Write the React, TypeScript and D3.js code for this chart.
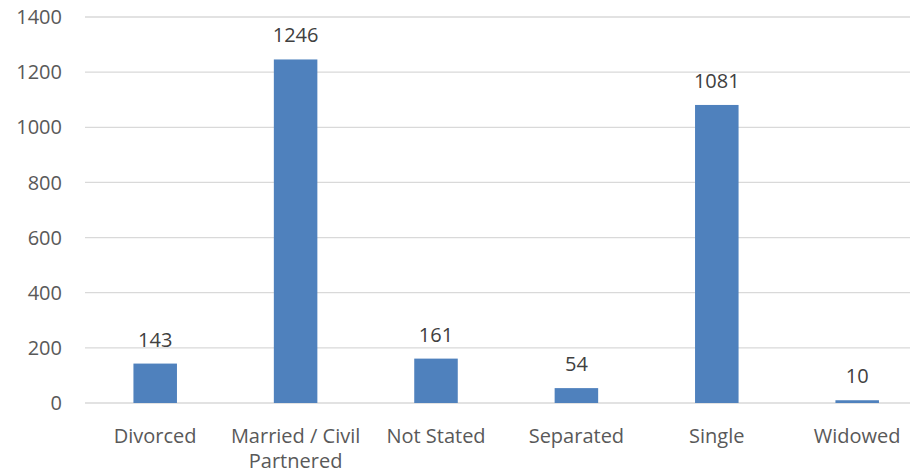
import React, { useEffect, useRef } from 'react';
import * as d3 from 'd3';

const categories = ['Divorced', 'Married / Civil Partnered', 'Not Stated', 'Separated', 'Single', 'Widowed'];
const counts = [143, 1246, 161, 54, 1081, 10];
const yTicks = [0, 200, 400, 600, 800, 1000, 1200, 1400];

const App = () => {
  const chartRef = useRef<SVGSVGElement>(null);

  useEffect(() => {
    const width = 910;
    const height = 474;
    const left = 85;
    const bandW = 140.4;
    const right = left + bandW * categories.length;
    const font = 'Open Sans, sans-serif';
    const fs = 20;

    const svg = d3.select(chartRef.current);
    svg.selectAll('*').remove();
    svg.attr('width', width).attr('height', height);

    const x = d3.scaleBand().domain(categories).range([left, right]).paddingInner(0.69).paddingOuter(0.345);
    const y = d3.scaleLinear().domain([0, 1400]).range([403, 17]);

    svg
      .selectAll('.grid')
      .data(yTicks)
      .enter()
      .append('line')
      .attr('x1', left)
      .attr('x2', width)
      .attr('y1', d => y(d))
      .attr('y2', d => y(d))
      .attr('stroke', '#d9d9d9')
      .attr('stroke-width', 1.3);

    svg
      .selectAll('.ylab')
      .data(yTicks)
      .enter()
      .append('text')
      .attr('x', 62)
      .attr('y', d => y(d))
      .attr('dy', '0.36em')
      .attr('text-anchor', 'end')
      .attr('font-family', font)
      .attr('font-size', fs)
      .attr('fill', '#595959')
      .text(d => d);

    const data = categories.map((c, i) => ({ c, v: counts[i] }));

    svg
      .selectAll('.bar')
      .data(data)
      .enter()
      .append('rect')
      .attr('x', d => x(d.c)!)
      .attr('y', d => y(d.v))
      .attr('width', x.bandwidth())
      .attr('height', d => y(0) - y(d.v))
      .attr('fill', '#4f81bd');

    svg
      .selectAll('.val')
      .data(data)
      .enter()
      .append('text')
      .attr('x', d => x(d.c)! + x.bandwidth() / 2)
      .attr('y', d => y(d.v) - 17)
      .attr('text-anchor', 'middle')
      .attr('font-family', font)
      .attr('font-size', fs)
      .attr('fill', '#404040')
      .text(d => d.v);

    // category labels, the long one wrapped onto two lines
    const lines = categories.flatMap(c => {
      const parts = c === 'Married / Civil Partnered' ? ['Married / Civil', 'Partnered'] : [c];
      return parts.map((t, i) => ({ c, t, i }));
    });

    svg
      .selectAll('.cat')
      .data(lines)
      .enter()
      .append('text')
      .attr('x', d => x(d.c)! + x.bandwidth() / 2)
      .attr('y', d => 443 + d.i * 25)
      .attr('text-anchor', 'middle')
      .attr('font-family', font)
      .attr('font-size', fs)
      .attr('fill', '#595959')
      .text(d => d.t);
  }, []);

  return (
    <div>
      <svg ref={chartRef} style={{ position: 'absolute', left: 0, top: 0 }}></svg>
    </div>
  );
};

export default App;
